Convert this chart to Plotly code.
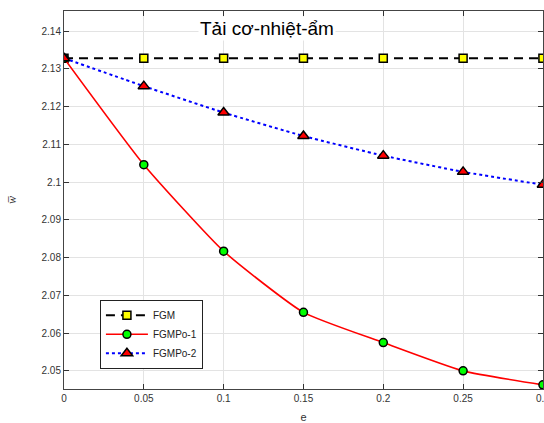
import plotly.graph_objects as go

e_vals = [0, 0.05, 0.1, 0.15, 0.2, 0.25, 0.3]
fgm = [2.1328, 2.1328, 2.1328, 2.1328, 2.1328, 2.1328, 2.1328]
fgmpo1 = [2.1328, 2.1046, 2.0817, 2.0655, 2.0575, 2.0500, 2.0463]
fgmpo2 = [2.1328, 2.1254, 2.1184, 2.1122, 2.1070, 2.1027, 2.0993]

x_ticks = [0, 0.05, 0.1, 0.15, 0.2, 0.25, 0.3]
x_tick_text = ["0", "0.05", "0.1", "0.15", "0.2", "0.25", "0.3"]
y_ticks = [2.05, 2.06, 2.07, 2.08, 2.09, 2.10, 2.11, 2.12, 2.13, 2.14]
y_tick_text = ["2.05", "2.06", "2.07", "2.08", "2.09", "2.1", "2.11", "2.12", "2.13", "2.14"]

title_text = "Tải cơ-nhiệt-ẩm"

fig = go.Figure()
fig.add_trace(go.Scatter(
    x=e_vals, y=fgm, name="FGM", mode="lines+markers",
    line=dict(color="black", width=2, dash="9px,6px"),
    marker=dict(symbol="square", size=8, color="#ffff00", line=dict(color="black", width=1.5)),
))
fig.add_trace(go.Scatter(
    x=e_vals, y=fgmpo1, name="FGMPo-1", mode="lines+markers",
    line=dict(color="#ff0000", width=1.6, shape="spline", smoothing=0.5),
    marker=dict(symbol="circle", size=8, color="#00ff00", line=dict(color="black", width=1.5)),
))
fig.add_trace(go.Scatter(
    x=e_vals, y=fgmpo2, name="FGMPo-2", mode="lines+markers",
    line=dict(color="#0000ff", width=2, dash="dot", shape="spline", smoothing=0.5),
    marker=dict(symbol="triangle-up", size=10, color="#ff0000", line=dict(color="black", width=1.5)),
))

fig.add_annotation(
    x=0.423, y=0.953, xref="paper", yref="paper", text=title_text, showarrow=False,
    font=dict(family="Liberation Sans, Arial", size=19, color="black"),
    xanchor="center", yanchor="middle", bgcolor="white",
)

axis_common = dict(
    showgrid=True, gridcolor="#e3e3e3", gridwidth=1,
    ticks="inside", ticklen=5, tickcolor="#333333",
    showline=True, linecolor="#444444", linewidth=1, mirror="ticks",
    zeroline=False, ticklabeloverflow="allow",
    tickfont=dict(family="Liberation Sans, Arial", size=10, color="#333333"),
)

fig.update_xaxes(
    range=[0, 0.30005], tickvals=x_ticks, ticktext=x_tick_text, automargin=False,
    title=dict(text="e", font=dict(family="Liberation Sans, Arial", size=11, color="#333333"), standoff=12),
    **axis_common,
)
fig.update_yaxes(
    range=[2.0452, 2.1453], tickvals=y_ticks, ticktext=y_tick_text, automargin=False,
    title=dict(text="<i>w\u0305</i>", font=dict(family="Liberation Serif, Times New Roman", size=12, color="#333333"), standoff=22),
    **axis_common,
)

fig.update_layout(
    width=544, height=423,
    margin=dict(l=64, r=1, t=11, b=34),
    paper_bgcolor="white", plot_bgcolor="white",
    showlegend=True,
    legend=dict(
        x=0.075, y=0.236, xanchor="left", yanchor="top",
        bgcolor="white", bordercolor="#222222", borderwidth=1,
        font=dict(family="Liberation Sans, Arial", size=10, color="#222222"),
        tracegroupgap=0, itemwidth=42, entrywidth=88,
    ),
)

fig.write_html("out.html")
